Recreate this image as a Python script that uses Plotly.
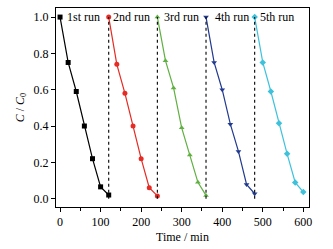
import plotly.graph_objects as go

run_names = ["1st run", "2nd run", "3rd run", "4th run", "5th run"]
t1 = [0, 20, 40, 60, 80, 100, 120]
c1 = [1.0, 0.75, 0.59, 0.40, 0.22, 0.065, 0.02]
t2 = [120, 140, 160, 180, 200, 220, 240]
c2 = [1.0, 0.74, 0.58, 0.40, 0.22, 0.06, 0.015]
t3 = [240, 260, 280, 300, 320, 340, 360]
c3 = [1.0, 0.76, 0.61, 0.39, 0.24, 0.09, 0.018]
t4 = [360, 380, 400, 420, 440, 460, 480]
c4 = [1.0, 0.75, 0.60, 0.41, 0.26, 0.078, 0.027]
t5 = [480, 500, 520, 540, 560, 580, 600]
c5 = [1.0, 0.75, 0.59, 0.415, 0.247, 0.089, 0.036]
label_x = [57, 177, 299, 424, 536]
divider_x = [120, 240, 360, 480]

colors = ["#000000", "#e52b23", "#5fb041", "#213a8f", "#3ec2dc"]
symbols = ["square", "circle", "triangle-up", "triangle-down", "diamond"]
times = [t1, t2, t3, t4, t5]
concs = [c1, c2, c3, c4, c5]

font_family = "Liberation Serif, Times New Roman, serif"

fig = go.Figure()
for t, c, col, sym, name in zip(times, concs, colors, symbols, run_names):
    fig.add_trace(go.Scatter(
        x=t, y=c, mode="lines+markers", name=name,
        line=dict(color=col, width=1.2),
        marker=dict(symbol=sym, size=5, color=col),
        showlegend=False,
    ))

for xv in divider_x:
    fig.add_shape(type="line", x0=xv, x1=xv, y0=0.0, y1=1.0,
                  xref="x", yref="y",
                  line=dict(color="black", width=1.1, dash="dot"))

for xv, name in zip(label_x, run_names):
    fig.add_annotation(x=xv, y=1.0, text=name, showarrow=False,
                       xref="x", yref="y",
                       font=dict(family=font_family, size=12, color="black"))

fig.update_layout(
    width=333, height=249,
    margin=dict(l=56, r=24, t=7, b=36),
    paper_bgcolor="white", plot_bgcolor="white",
    font=dict(family=font_family, size=12, color="black"),
)
fig.update_xaxes(
    range=[-10, 614], tickmode="array", tickvals=[0, 100, 200, 300, 400, 500, 600],
    ticks="outside", ticklen=4, tickwidth=1, tickcolor="black",
    minor=dict(tickvals=[50, 150, 250, 350, 450, 550], ticks="outside", ticklen=3, tickcolor="black"),
    showline=True, linecolor="black", linewidth=1, mirror=True,
    showgrid=False, zeroline=False,
    title=dict(text="Time / min", standoff=4, font=dict(size=12)),
)
fig.update_yaxes(
    range=[-0.046, 1.05], tickmode="array", tickvals=[0.0, 0.2, 0.4, 0.6, 0.8, 1.0],
    tickformat=".1f",
    ticks="outside", ticklen=4, tickwidth=1, tickcolor="black",
    showline=True, linecolor="black", linewidth=1, mirror=True,
    showgrid=False, zeroline=False,
    title=dict(text="<i>C</i> / <i>C</i><sub>0</sub>", standoff=6, font=dict(size=12)),
)

fig.write_html("out.html", config={"displayModeBar": False},
               post_script="document.body.style.margin='0px';document.body.style.overflow='hidden';")
